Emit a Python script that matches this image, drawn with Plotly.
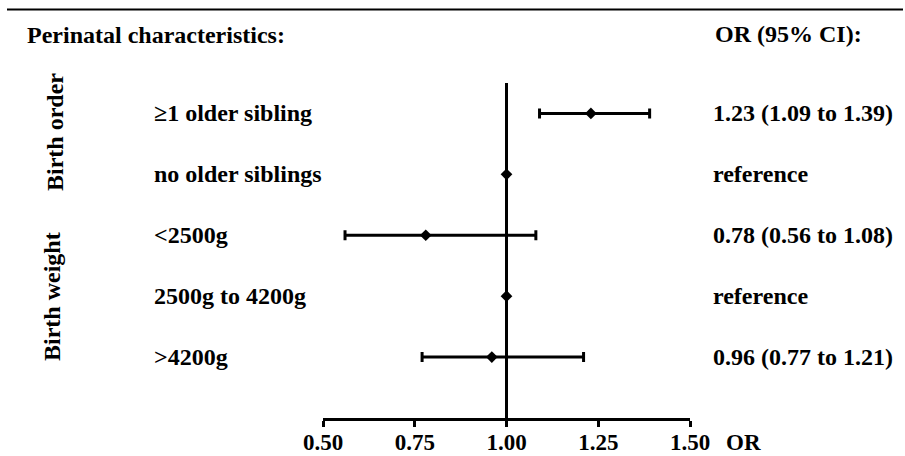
import plotly.graph_objects as go

# ---- data ----
row_labels = ["\u22651 older sibling", "no older siblings", "<2500g", "2500g to 4200g", ">4200g"]
odds_ratio = [1.23, 1.00, 0.78, 1.00, 0.96]
ci_low = [1.09, 1.00, 0.56, 1.00, 0.77]
ci_high = [1.39, 1.00, 1.08, 1.00, 1.21]
or_text = ["1.23 (1.09 to 1.39)", "reference", "0.78 (0.56 to 1.08)", "reference", "0.96 (0.77 to 1.21)"]
group_labels = ["Birth order", "Birth weight"]
x_ticks = [0.50, 0.75, 1.00, 1.25, 1.50]
REF_OR = 1.0

n = len(row_labels)
row_y = [n - i for i in range(n)]  # top row highest

FONT = "Liberation Serif, Times New Roman, serif"
FS = 24

fig = go.Figure()
fig.add_trace(go.Scatter(
    x=odds_ratio, y=row_y, mode="markers",
    marker=dict(symbol="diamond", size=9, color="black"),
    error_x=dict(type="data", symmetric=False,
                 array=[h - o for h, o in zip(ci_high, odds_ratio)],
                 arrayminus=[o - l for o, l in zip(odds_ratio, ci_low)],
                 color="black", thickness=3, width=5),
    hoverinfo="skip", showlegend=False, cliponaxis=False,
))

W, H = 905, 456
L, R, T, B = 323, 215, 83, 38
pw = W - L - R
ph = H - T - B

def px_x(p):
    return (p - L) / pw

def px_y(p):
    return (H - B - p) / ph

shapes = [
    dict(type="line", xref="x", yref="y", x0=REF_OR, x1=REF_OR, y0=0, y1=5.5,
         line=dict(color="black", width=3), layer="below"),
    dict(type="line", xref="paper", yref="paper", x0=px_x(7), x1=px_x(903),
         y0=px_y(9.5), y1=px_y(9.5), line=dict(color="black", width=2)),
]

ann = []
bold = lambda s: "<b>" + s + "</b>"
fnt = dict(family=FONT, size=FS, color="black")
tfnt = dict(family=FONT, size=23, color="black")
for lab, txt, y in zip(row_labels, or_text, row_y):
    ann.append(dict(text=bold(lab), xref="paper", yref="y", x=px_x(152), y=y,
                    xanchor="left", yanchor="middle", showarrow=False, font=fnt))
    ann.append(dict(text=bold(txt), xref="paper", yref="y", x=px_x(711), y=y,
                    xanchor="left", yanchor="middle", showarrow=False, font=fnt))
ann.append(dict(text=bold("Perinatal characteristics:"), xref="paper", yref="paper",
                x=px_x(25), y=px_y(35), xanchor="left", yanchor="middle",
                showarrow=False, font=fnt))
ann.append(dict(text=bold("OR (95% CI):"), xref="paper", yref="paper",
                x=px_x(713), y=px_y(34), xanchor="left", yanchor="middle",
                showarrow=False, font=fnt))
ann.append(dict(text=bold("OR"), xref="paper", yref="paper",
                x=px_x(724), y=px_y(442), xanchor="left", yanchor="middle",
                showarrow=False, font=tfnt))
ann.append(dict(text=bold(group_labels[0]), xref="paper", yref="paper",
                x=px_x(55), y=px_y(132), xanchor="center", yanchor="middle",
                textangle=-90, showarrow=False, font=fnt))
ann.append(dict(text=bold(group_labels[1]), xref="paper", yref="paper",
                x=px_x(52), y=px_y(297), xanchor="center", yanchor="middle",
                textangle=-90, showarrow=False, font=fnt))

fig.update_layout(
    width=W, height=H,
    margin=dict(l=L, r=R, t=T, b=B, pad=0, autoexpand=False),
    paper_bgcolor="white", plot_bgcolor="white",
    shapes=shapes, annotations=ann,
    xaxis=dict(range=[0.5, 1.5], tickvals=x_ticks,
               ticktext=[bold(f"{v:.2f}") for v in x_ticks],
               tickfont=tfnt, showline=True, linecolor="black", linewidth=3,
               ticks="outside", ticklen=6, tickwidth=3, tickcolor="black",
               ticklabelstandoff=-5,
               showgrid=False, zeroline=False, fixedrange=True, automargin=False),
    yaxis=dict(range=[0, 5.5], visible=False, fixedrange=True, automargin=False),
    font=fnt,
)

fig.write_html("out.html")
